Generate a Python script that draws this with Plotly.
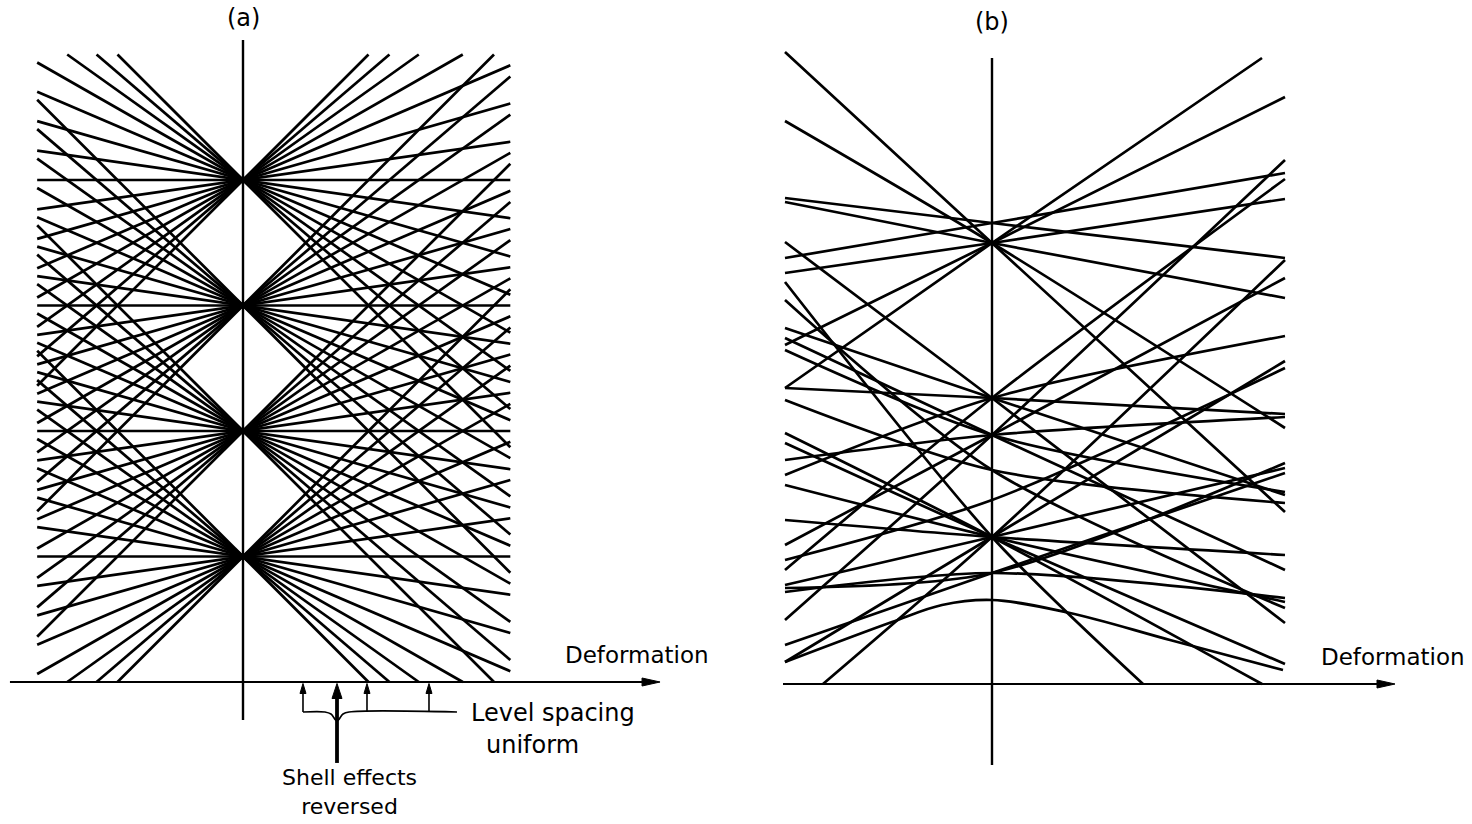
import plotly.graph_objects as go

# ---------------- data ----------------
# Panel (a): degenerate shell energies at zero deformation and the slopes of the levels
A_SHELL_ENERGIES = [1.0, 2.0, 3.0, 4.0]
A_SLOPES = [-1.0, -0.857, -0.714, -0.571, -0.429, -0.286, -0.143, 0.0,
            0.143, 0.286, 0.429, 0.571, 0.714, 0.857, 1.0]
A_DEF_MIN, A_DEF_MAX = -1.64, 2.13
A_E_MIN, A_E_MAX = 0.0, 5.0
A_SPACING_MARKS = [0.478, 0.988, 1.482]      # "level spacing uniform" arrows
A_SHELL_MARK = 0.749                          # "shell effects reversed" arrow

# Panel (b): each level as (left deformation, left energy, energy at zero, right deformation, right energy)
B_X_LEFT = [-2.07, -2.07, -2.07, -2.07, -2.07, -2.07, -2.07, -2.07, -2.07, -2.07,
            -2.07, -2.07, -2.07, -2.07, -2.07, -2.07, -1.69, -2.07, -2.07, -2.07,
            -2.07, -2.07, -2.07, -2.07, -2.07, -2.07, -2.07, -2.07, -2.07, -2.07,
            -2.07, -2.07]
B_E_LEFT = [6.32, 5.63, 4.86, 4.82, 4.26, 4.11, 2.96, 3.39, 0.64, 1.14,
            2.96, 4.42, 3.56, 4.02, 2.51, 1.64, 0.00, 0.22, 0.99, 1.99,
            2.41, 3.46, 3.34, 1.39, 2.24, 2.09, 0.96, 0.92, 0.39, 3.84,
            1.24, 2.84]
B_E_ZERO = [4.41, 4.41, 4.61, 4.41, 4.61, 4.41, 4.41, 4.41, 2.49, 2.86,
            2.86, 2.86, 2.86, 1.47, 1.47, 1.47, 1.47, 1.47, 1.47, 1.47,
            1.47, 2.49, 2.49, 2.49, 2.49, 2.86, 1.11, 1.11, 1.11, 2.14,
            1.84, 2.14]
B_X_RIGHT = [2.93, 2.93, 2.93, 2.93, 2.93, 2.93, 2.70, 2.93, 2.93, 2.93,
             2.93, 2.93, 2.93, 1.51, 2.70, 2.93, 2.93, 2.93, 2.93, 2.93,
             2.93, 2.93, 2.93, 2.93, 2.93, 2.93, 2.93, 2.93, 2.93, 2.93,
             2.93, 2.93]
B_E_RIGHT = [1.72, 2.56, 4.26, 3.86, 5.11, 4.85, 6.26, 5.87, 5.24, 5.05,
             2.70, 0.61, 1.89, 0.00, 0.00, 1.29, 4.24, 3.23, 2.16, 0.82,
             0.20, 1.14, 1.92, 4.06, 2.67, 3.48, 2.21, 0.86, 2.11, 0.76,
             3.16, 1.81]
# lowest level, bending over at zero deformation
B_CURVE_X = [-2.07, -1.00, -0.50, 0.0, 0.78, 1.78, 2.91]
B_CURVE_E = [0.22, 0.62, 0.79, 0.84, 0.71, 0.44, 0.14]

FONT = "DejaVu Sans"
LW = 2.7

fig = go.Figure()

# ---------------- panel (a) ----------------
ax_x, ax_y = [], []
for e0 in A_SHELL_ENERGIES:
    for s in A_SLOPES:
        if s == 0:
            lo, hi = A_DEF_MIN, A_DEF_MAX
        else:
            xa = (A_E_MIN - e0) / s
            xb = (A_E_MAX - e0) / s
            lo = max(A_DEF_MIN, min(xa, xb))
            hi = min(A_DEF_MAX, max(xa, xb))
        if hi <= lo:
            continue
        ax_x += [lo, hi, None]
        ax_y += [e0 + s * lo, e0 + s * hi, None]
fig.add_trace(go.Scatter(x=ax_x, y=ax_y, mode="lines", xaxis="x", yaxis="y",
                         line=dict(color="black", width=LW), hoverinfo="skip"))

# axes of panel (a)
fig.add_trace(go.Scatter(x=[-1.857, 3.20], y=[0, 0], mode="lines", xaxis="x", yaxis="y",
                         line=dict(color="black", width=2.2), hoverinfo="skip"))
fig.add_trace(go.Scatter(x=[0, 0], y=[5.115, -0.303], mode="lines", xaxis="x", yaxis="y",
                         line=dict(color="black", width=2.4), hoverinfo="skip"))

# bracket and arrows under the axis
fig.add_trace(go.Scatter(x=[0.478, 0.653, 0.701, 0.749, 0.797, 0.845, 1.705],
                         y=[-0.239, -0.239, -0.255, -0.31, -0.255, -0.239, -0.239],
                         mode="lines", xaxis="x", yaxis="y", line_shape="spline",
                         line=dict(color="black", width=1.6), hoverinfo="skip"))
for xm in A_SPACING_MARKS:
    fig.add_trace(go.Scatter(x=[xm, xm], y=[-0.239, -0.07], mode="lines", xaxis="x", yaxis="y",
                             line=dict(color="black", width=1.6), hoverinfo="skip"))
fig.add_trace(go.Scatter(x=[A_SHELL_MARK, A_SHELL_MARK], y=[-0.645, -0.10], mode="lines",
                         xaxis="x", yaxis="y", line=dict(color="black", width=3.8),
                         hoverinfo="skip"))

# ---------------- panel (b) ----------------
for xl, el, ec, xr, er in zip(B_X_LEFT, B_E_LEFT, B_E_ZERO, B_X_RIGHT, B_E_RIGHT):
    fig.add_trace(go.Scatter(x=[xl, 0.0, xr], y=[el, ec, er], mode="lines",
                             xaxis="x2", yaxis="y2", line_shape="spline",
                             line=dict(color="black", width=LW, smoothing=0.8),
                             hoverinfo="skip"))
fig.add_trace(go.Scatter(x=B_CURVE_X, y=B_CURVE_E, mode="lines", xaxis="x2", yaxis="y2",
                         line_shape="spline", line=dict(color="black", width=LW),
                         hoverinfo="skip"))
fig.add_trace(go.Scatter(x=[-2.09, 3.90], y=[0, 0], mode="lines", xaxis="x2", yaxis="y2",
                         line=dict(color="black", width=2.2), hoverinfo="skip"))
fig.add_trace(go.Scatter(x=[0, 0], y=[6.26, -0.81], mode="lines", xaxis="x2", yaxis="y2",
                         line=dict(color="black", width=2.4), hoverinfo="skip"))

# ---------------- arrowheads ----------------
def head(xref, yref, x, y, path):
    return dict(type="path", xref=xref, yref=yref, xsizemode="pixel", ysizemode="pixel",
                xanchor=x, yanchor=y, path=path, fillcolor="black",
                line=dict(color="black", width=1), layer="above")

shapes = [
    head("x", "y", 3.323, 0, "M 0 0 L -18 4 L -18 -4 Z"),
    head("x2", "y2", 4.03, 0, "M 0 0 L -18 4 L -18 -4 Z"),
    head("x", "y", A_SHELL_MARK, -0.012, "M 0 0 L -5 -15 L 5 -15 Z"),
]
for xm in A_SPACING_MARKS:
    shapes.append(head("x", "y", xm, -0.012, "M 0 0 L -3 -10 L 3 -10 Z"))

# ---------------- text ----------------
def label(xref, yref, x, y, text, size=23):
    return dict(xref=xref, yref=yref, x=x, y=y, text=text, showarrow=False,
                font=dict(family=FONT, size=size, color="black"),
                xanchor="center", yanchor="middle", align="center")

annotations = [
    label("x", "y", 0.0, 5.29, "(a)", 24),
    label("x", "y", 3.14, 0.215, "Deformation"),
    label("x", "y", 2.47, -0.247, "Level spacing", 24),
    label("x", "y", 2.31, -0.50, "uniform", 24),
    label("x", "y", 0.845, -0.876, "Shell effects<br>reversed", 22),
    label("x2", "y2", 0.0, 6.62, "(b)", 24),
    label("x2", "y2", 4.01, 0.27, "Deformation"),
]

hidden = dict(visible=False, showgrid=False, zeroline=False, fixedrange=True)
fig.update_layout(
    width=1472, height=824, autosize=False,
    margin=dict(l=0, r=0, t=0, b=0),
    paper_bgcolor="white", plot_bgcolor="white",
    showlegend=False,
    xaxis=dict(domain=[0, 0.5], range=[-1.93625, 3.92829], **hidden),
    yaxis=dict(domain=[0, 1], range=[-1.13147, 5.43426], **hidden),
    xaxis2=dict(domain=[0.5, 1], range=[-2.56, 4.80], anchor="y2", **hidden),
    yaxis2=dict(domain=[0, 1], range=[-1.40, 6.84], anchor="x2", **hidden),
    shapes=shapes,
    annotations=annotations,
)

fig.write_html("out.html", config={"displayModeBar": False},
               post_script="document.body.style.margin='0';document.body.style.overflow='hidden';")
